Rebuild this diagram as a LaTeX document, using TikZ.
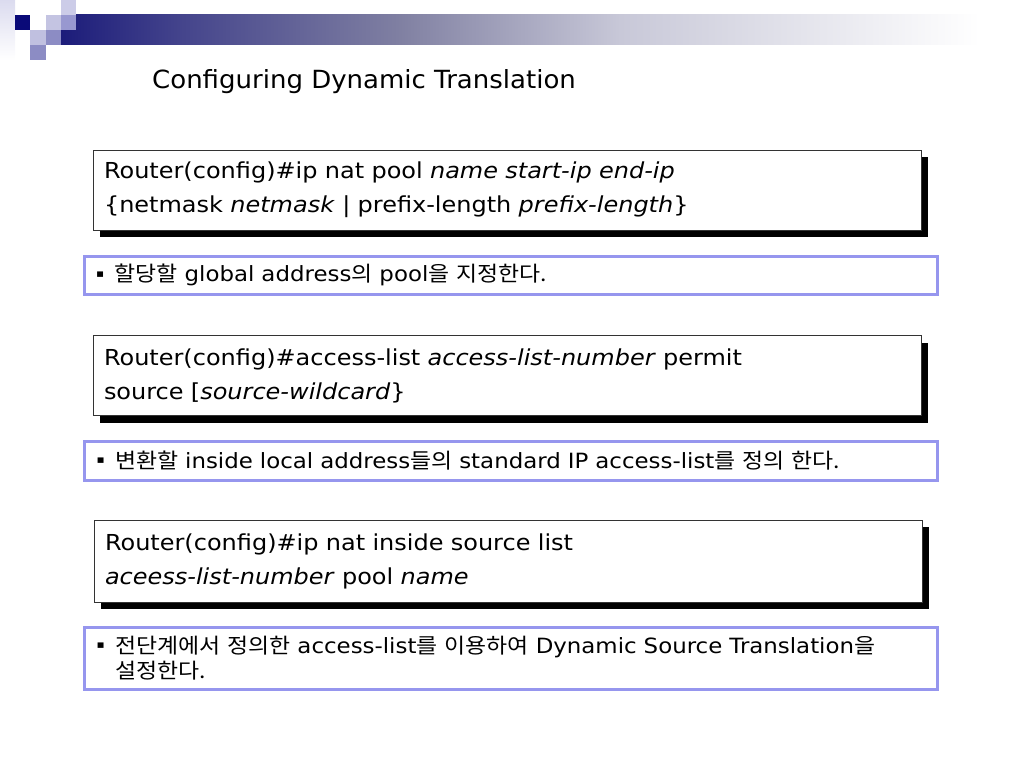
\documentclass[tikz,border=0pt]{standalone}
\usepackage{fontspec}
\setmainfont{DejaVu Sans}
\newfontfamily\kr[FakeStretch=1.09]{Noto Sans CJK KR}
\newfontfamily\notefont[FakeStretch=1.09]{DejaVu Sans}
\newfontfamily\cmdfont[FakeStretch=1.09]{DejaVu Sans}
\newfontfamily\titlefont[FakeStretch=1.04]{DejaVu Sans}
\usetikzlibrary{shadows}
\definecolor{bord}{RGB}{150,150,238}
\definecolor{navy}{RGB}{10,10,120}
\definecolor{bA}{RGB}{28,28,122}
\definecolor{bB}{RGB}{68,68,140}
\definecolor{bC}{RGB}{128,128,162}
\definecolor{bD}{RGB}{200,200,216}
\definecolor{sqlight}{RGB}{196,196,226}
\definecolor{sqlighter}{RGB}{204,204,232}
\definecolor{sqmid}{RGB}{152,152,208}
\definecolor{sqmidb}{RGB}{140,140,196}
\tikzset{
  cmdbox/.style={draw=black!80, line width=0.8pt, fill=white,
    text width=806pt, inner xsep=11pt, inner ysep=0pt, minimum height=80pt,
    align=left, font=\cmdfont\fontsize{22}{34}\selectfont,
    drop shadow={shadow xshift=7pt, shadow yshift=-7pt, fill=black, opacity=1}},
  notebox/.style={draw=bord, line width=3pt, fill=white,
    text width=830pt, inner xsep=11.5pt, inner ysep=0pt,
    align=left, font=\notefont\fontsize{21}{25}\selectfont},
  bandseg/.style={draw=none}
}
\newcommand{\bul}{\makebox[19pt][l]{\hspace*{0.5pt}\raisebox{4.5pt}{\fontsize{11}{11}\selectfont ▪}}}
\begin{document}
\begin{tikzpicture}[x=1pt,y=-1pt]
\useasboundingbox (0,0) rectangle (1024,768);
% header decoration
\shade[top color=sqlighter!70!white, bottom color=white] (0,0) rectangle (15,60);
\shade[bandseg, left color=bA, right color=bB] (61,15) rectangle (180.5,45);
\shade[bandseg, left color=bB, right color=bC] (180,15) rectangle (400.5,45);
\shade[bandseg, left color=bC, right color=bD] (400,15) rectangle (620.5,45);
\shade[bandseg, left color=bD, right color=white] (620,15) rectangle (980,45);
\fill[navy] (15,15) rectangle (30,30);
\fill[sqlight] (46,15) rectangle (61,30);
\fill[sqlighter] (61,0) rectangle (76,15);
\fill[sqmid] (61,15) rectangle (76,30);
\fill[sqlight!90!sqmid] (30,30) rectangle (46,45);
\fill[sqmidb] (46,30) rectangle (61,45);
\fill[sqmidb] (30,45) rectangle (46,60);
% title
\node[font=\titlefont\fontsize{25}{30}\selectfont, anchor=base west, inner sep=0pt] (title) at (152,88) {Configuring Dynamic Translation};
% command 1
\node[cmdbox] (c1) at (507,190) {Router(config)\#ip nat pool \textit{name start-ip end-ip}\\
\{netmask \textit{netmask} | prefix-length \textit{prefix-length}\}};
\node[notebox, minimum height=38pt] (n1) at (510.5,275) {\bul{\kr 할당할} global address{\kr 의} pool{\kr 을 지정한다.}};
% command 2
\node[cmdbox] (c2) at (507,375.5) {Router(config)\#access-list \textit{access-list-number} permit\\
source [\textit{source-wildcard}\}};
\node[notebox, minimum height=39pt] (n2) at (511,460.5) {\bul{\kr 변환할} inside local address{\kr 들의} standard IP access-list{\kr 를 정의 한다.}};
% command 3
\node[cmdbox, minimum height=82pt] (c3) at (508,561) {Router(config)\#ip nat inside source list\\
\textit{aceess-list-number} pool \textit{name}};
\node[notebox, minimum height=62pt] (n3) at (511,658) {\bul{\kr 전단계에서 정의한} access-list{\kr 를 이용하여} Dynamic Source Translation{\kr 을}\\
\hspace*{19pt}{\kr 설정한다.}};
\end{tikzpicture}
\end{document}
